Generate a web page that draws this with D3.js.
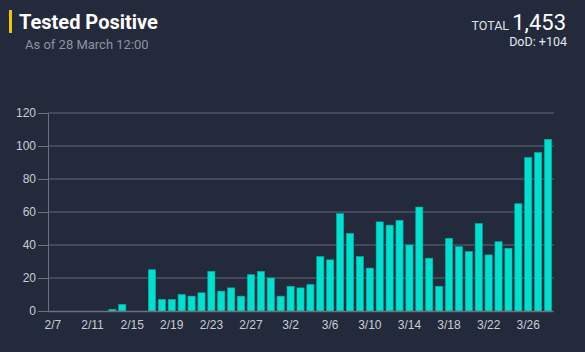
<!DOCTYPE html>
<html>
<head>
<meta charset="utf-8">
<script src="https://cdn.jsdelivr.net/npm/d3@7"></script>
<style>
  body { margin: 0; background: #232a3b; }
  svg { display: block; font-family: Roboto, "Noto Sans", sans-serif; }
</style>
</head>
<body>
<div id="chart"></div>
<script>
// daily new positives, 2/7 .. 3/28
const dates = [
  "2/7","2/8","2/9","2/10","2/11","2/12","2/13","2/14","2/15","2/16","2/17","2/18","2/19","2/20",
  "2/21","2/22","2/23","2/24","2/25","2/26","2/27","2/28","2/29","3/1","3/2","3/3","3/4","3/5",
  "3/6","3/7","3/8","3/9","3/10","3/11","3/12","3/13","3/14","3/15","3/16","3/17","3/18","3/19",
  "3/20","3/21","3/22","3/23","3/24","3/25","3/26","3/27","3/28"
];
const positives = [
  0,0,0,0,0,0,1,4,0,0,25,7,7,10,
  9,11,24,12,14,9,22,24,20,9,15,14,16,33,
  31,59,47,33,26,54,52,55,40,63,32,15,44,39,
  36,53,34,42,38,65,93,96,104
];
const yTicks = [0, 20, 40, 60, 80, 100, 120];
const total = 1453;
const dod = 104;

const W = 585, H = 352;
const margin = {top: 113, right: 32, bottom: 41, left: 48};

const svg = d3.select('#chart').append('svg')
  .attr('width', W).attr('height', H);

svg.append('rect').attr('width', W).attr('height', H).attr('fill', '#232a3b');

// header
svg.append('rect').attr('x', 9).attr('y', 10).attr('width', 3).attr('height', 23).attr('fill', '#f2c20c');
svg.append('text').attr('x', 19).attr('y', 29)
  .text('Tested Positive')
  .style('font-size', '20px').style('font-weight', 'bold').style('fill', '#ffffff');
svg.append('text').attr('x', 25).attr('y', 49)
  .text('As of 28 March 12:00')
  .style('font-size', '13px').style('fill', '#8e94a2');

const tot = svg.append('text').attr('x', 566).attr('y', 30).attr('text-anchor', 'end');
tot.append('tspan').text('TOTAL ').style('font-size', '12.5px').style('fill', '#dfe2e8');
tot.append('tspan').text(d3.format(',')(total)).style('font-size', '22px').style('fill', '#ffffff');
svg.append('text').attr('x', 567).attr('y', 46).attr('text-anchor', 'end')
  .text('DoD: +' + dod)
  .style('font-size', '12.5px').style('fill', '#e6e8ec');

// scales
const x = d3.scaleBand()
  .domain(dates)
  .range([margin.left, W - margin.right])
  .paddingInner(0.28).paddingOuter(0.14);
const y = d3.scaleLinear()
  .domain([0, 120])
  .range([H - margin.bottom, margin.top]);

// gridlines
svg.append('g').selectAll('line')
  .data(yTicks.slice(1)).enter().append('line')
  .attr('x1', margin.left).attr('x2', W - margin.right + 1)
  .attr('y1', d => y(d)).attr('y2', d => y(d))
  .style('stroke', '#4d5364').style('stroke-width', 1.5);

// y axis
const yAxis = svg.append('g')
  .attr('transform', 'translate(' + margin.left + ',0)')
  .call(d3.axisLeft(y).tickValues(yTicks).tickSize(10).tickPadding(2));
yAxis.select('.domain').style('stroke', '#6c7182');
yAxis.selectAll('.tick line').style('stroke', '#6c7182');
yAxis.selectAll('.tick text').style('fill', '#c9cdd5').style('font-size', '12px');

// bars
svg.append('g').selectAll('rect')
  .data(positives).enter().append('rect')
  .attr('x', (d, i) => x(dates[i]))
  .attr('width', x.bandwidth())
  .attr('y', d => y(d))
  .attr('height', d => y(0) - y(d))
  .style('fill', '#00e0cf')
  .style('stroke', '#00b5a8').style('stroke-width', 0.6);

// x axis
const xAxis = svg.append('g')
  .attr('transform', 'translate(0,' + (H - margin.bottom) + ')')
  .call(d3.axisBottom(x).tickValues(dates.filter((d, i) => i % 4 === 0)).tickSize(0).tickPadding(9));
xAxis.select('.domain').style('stroke', '#6c7182').style('stroke-width', 1.5);
xAxis.selectAll('.tick text').style('fill', '#c9cdd5').style('font-size', '12px');
</script>
</body>
</html>
